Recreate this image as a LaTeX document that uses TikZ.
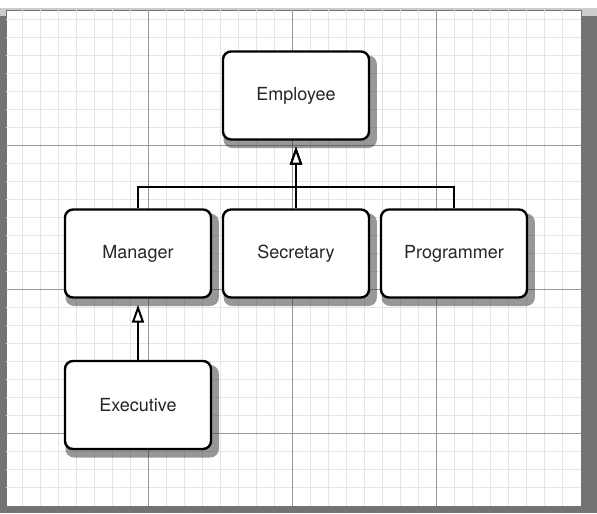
\documentclass[tikz,border=0pt]{standalone}
\usepackage{fontspec}
\setmainfont{TeX Gyre Heros}
\usetikzlibrary{positioning,shapes,shadows,arrows.meta}

\tikzset{
  finegrid/.style = {draw=black!10, line width=0.3pt},
  coarsegrid/.style = {draw=black!40, line width=0.4pt},
  inherit/.style = {draw, sharp corners, line width=1pt,
    {Triangle[width=6pt,length=9pt,fill=white]}-, shorten <=3pt}
}

\begin{document}
\begin{tikzpicture}[x=0.5pt, y=-0.5pt,
          level 1/.style = {sibling distance=79pt, level distance=79pt},
          level 2/.style = {level distance=75.75pt},
          edge from parent/.style = {inherit},
          edge from parent path = {(\tikzparentnode.south) -- ++(0,-23pt)
            -| (\tikzchildnode.north)},
          every node/.style = {shape=rectangle, rounded corners=4pt,
            draw, line width=1.2pt, fill=white, align=center,
            minimum width=73pt, minimum height=44pt,
            font=\fontsize{9}{11}\selectfont, text=black!85,
            drop shadow={shadow xshift=2pt, shadow yshift=-3pt,
              shadow scale=1.05, fill=black!80}}]
          \useasboundingbox (0,0) rectangle (597,513);
          % paper and its shadow
          \fill[black!20] (0,8) rectangle (597,16);
          \fill[black!55] (0,16) rectangle (597,513);
          \fill[white, draw=black!55, line width=0.4pt] (6,10) rectangle (581,506);
          % grid
          \foreach \x in {22,40,...,562}
            \draw[finegrid] (\x,10) -- (\x,506);
          \foreach \y in {19,37,...,487}
            \draw[finegrid] (6,\y) -- (581,\y);
          \foreach \x in {148,292,436}
            \draw[coarsegrid] (\x,10) -- (\x,506);
          \foreach \y in {145,289,433}
            \draw[coarsegrid] (6,\y) -- (581,\y);
          % class tree
          \node (emp) at (296,95.5) {Employee}
            child
            {
                node (mgr) {Manager}
                child
                {
                    node (exec) {Executive}
                }
            }
            child
            {
                node (sec) {Secretary}
            }
            child
            {
                node (prog) {Programmer}
            };
        \end{tikzpicture}
\end{document}
